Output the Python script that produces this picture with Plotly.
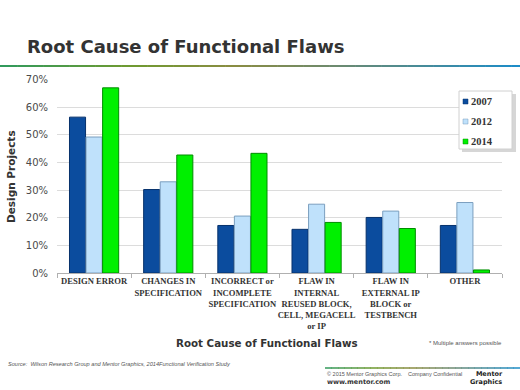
import plotly.graph_objects as go

categories = [
    "DESIGN ERROR",
    "CHANGES IN<br>SPECIFICATION",
    "INCORRECT or<br>INCOMPLETE<br>SPECIFICATION",
    "FLAW IN<br>INTERNAL<br>REUSED BLOCK,<br>CELL, MEGACELL<br>or IP",
    "FLAW IN<br>EXTERNAL IP<br>BLOCK or<br>TESTBENCH",
    "OTHER",
]
series_names = ["2007", "2012", "2014"]
values_2007 = [0.564, 0.302, 0.172, 0.158, 0.201, 0.172]
values_2012 = [0.492, 0.330, 0.206, 0.249, 0.224, 0.255]
values_2014 = [0.670, 0.427, 0.433, 0.183, 0.161, 0.011]
y_ticks = [0, 0.1, 0.2, 0.3, 0.4, 0.5, 0.6, 0.7]

fills = ["#0b4c9e", "#bfe1fb", "#00f000"]
edges = ["#06316b", "#7b9fbf", "#008c00"]

fig = go.Figure()
for name, vals, fc, ec in zip(series_names, [values_2007, values_2012, values_2014], fills, edges):
    fig.add_trace(go.Bar(
        x=categories, y=vals, name=name, showlegend=False,
        marker=dict(color=fc, line=dict(color=ec, width=1)),
    ))

fig.update_layout(
    width=520, height=390,
    margin=dict(l=57, r=18, t=79, b=117),
    paper_bgcolor="white", plot_bgcolor="white",
    barmode="group", bargap=0.33, bargroupgap=0.03,
    font=dict(family="DejaVu Sans", color="#404040"),
    showlegend=False,
)
fig.update_xaxes(
    showline=True, linecolor="#b0b0b0", linewidth=1,
    ticks="outside", tickson="boundaries", ticklen=4, tickcolor="#b0b0b0",
    tickfont=dict(family="Liberation Serif", size=8.6, color="#333333", weight="bold"),
    tickangle=0, showgrid=False,
)
fig.update_yaxes(
    range=[0, 0.702], tickvals=y_ticks, tickformat=".0%",
    showgrid=True, gridcolor="#dcdcdc", gridwidth=1,
    zeroline=False, showline=False,
    tickfont=dict(family="DejaVu Sans", size=10, color="#4a4a4a"),
    ticklabelstandoff=8,
)

def px(x):
    return (x - 57) / 445

def py(y):
    return (273 - y) / 194

# legend box with shadow
fig.add_shape(type="rect", xref="paper", yref="paper",
              x0=px(462), x1=px(516), y0=py(152), y1=py(94),
              fillcolor="#c4c4c4", line=dict(width=0), layer="above", opacity=0.7)
fig.add_shape(type="rect", xref="paper", yref="paper",
              x0=px(459), x1=px(512), y0=py(149), y1=py(91),
              fillcolor="white", line=dict(color="#d0d0d0", width=1), layer="above")

def lerp(c1, c2, t):
    a = [int(c1[i:i + 2], 16) for i in (1, 3, 5)]
    b = [int(c2[i:i + 2], 16) for i in (1, 3, 5)]
    return "#" + "".join("%02x" % round(a[k] + (b[k] - a[k]) * t) for k in range(3))

stops = [(0.0, "#2f9a5e"), (0.25, "#6f9a30"), (0.45, "#8a8c42"), (0.65, "#6c8a70"), (1.0, "#1b8cc9")]

def grad_line(x0, x1, y, n=60, width=2):
    for i in range(n):
        t = (i + 0.5) / n
        for j in range(len(stops) - 1):
            if stops[j][0] <= t <= stops[j + 1][0]:
                tt = (t - stops[j][0]) / (stops[j + 1][0] - stops[j][0])
                col = lerp(stops[j][1], stops[j + 1][1], tt)
                break
        xa = x0 + (x1 - x0) * i / n
        xb = x0 + (x1 - x0) * (i + 1) / n + 0.5
        fig.add_shape(type="line", xref="paper", yref="paper",
                      x0=px(xa), x1=px(xb), y0=py(y), y1=py(y),
                      line=dict(color=col, width=width))

grad_line(0, 520, 66)
grad_line(325, 520, 368, n=30, width=1.5)

def note(text, x, y, size, family="DejaVu Sans", color="#333333", weight="normal",
         xanchor="left", angle=0, style="normal", align="left"):
    fig.add_annotation(text=text, x=px(x), y=py(y), xref="paper", yref="paper",
                       xanchor=xanchor, yanchor="middle", showarrow=False, textangle=angle,
                       align=align,
                       font=dict(family=family, size=size, color=color, weight=weight, style=style))

# legend entries
for k, (name, fc) in enumerate(zip(series_names, fills)):
    ly = 101 + k * 20
    fig.add_shape(type="rect", xref="paper", yref="paper",
                  x0=px(463), x1=px(468), y0=py(ly + 3), y1=py(ly - 2),
                  fillcolor=fc, line=dict(color=edges[k], width=0.5), layer="above")
    note(name, 469, ly, 10.5, family="Liberation Serif", color="#333333", weight="bold")

note("Root Cause of Functional Flaws", 25, 47, 18, family="DejaVu Sans", color="#333333", weight="bold")
note("Design Projects", 11, 177, 10.5, weight="bold", color="#333333", xanchor="center", angle=-90)
note("Root Cause of Functional Flaws", 267, 343, 10.3, weight="bold", color="#333333", xanchor="center")
note("* Multiple answers possible", 427, 343, 6, family="Liberation Sans", color="#555555")
note("Source:  Wilson Research Group and Mentor Graphics, 2014Functional Verification Study",
     6, 364, 5.6, family="Liberation Sans", color="#555555", style="italic")
note("© 2015 Mentor Graphics Corp.    Company Confidential", 325, 374, 5.5,
     family="Liberation Sans", color="#555555")
note("www.mentor.com", 325, 382, 6.5, family="DejaVu Sans", color="#333333", weight="bold")
note("Mentor<br>Graphics", 505, 378.5, 6.5, family="DejaVu Sans", color="#222222", weight="bold",
     xanchor="right", align="right")

fig.write_html("out.html", config={"displayModeBar": False},
               post_script="document.body.style.margin='0';document.body.style.padding='0';")
